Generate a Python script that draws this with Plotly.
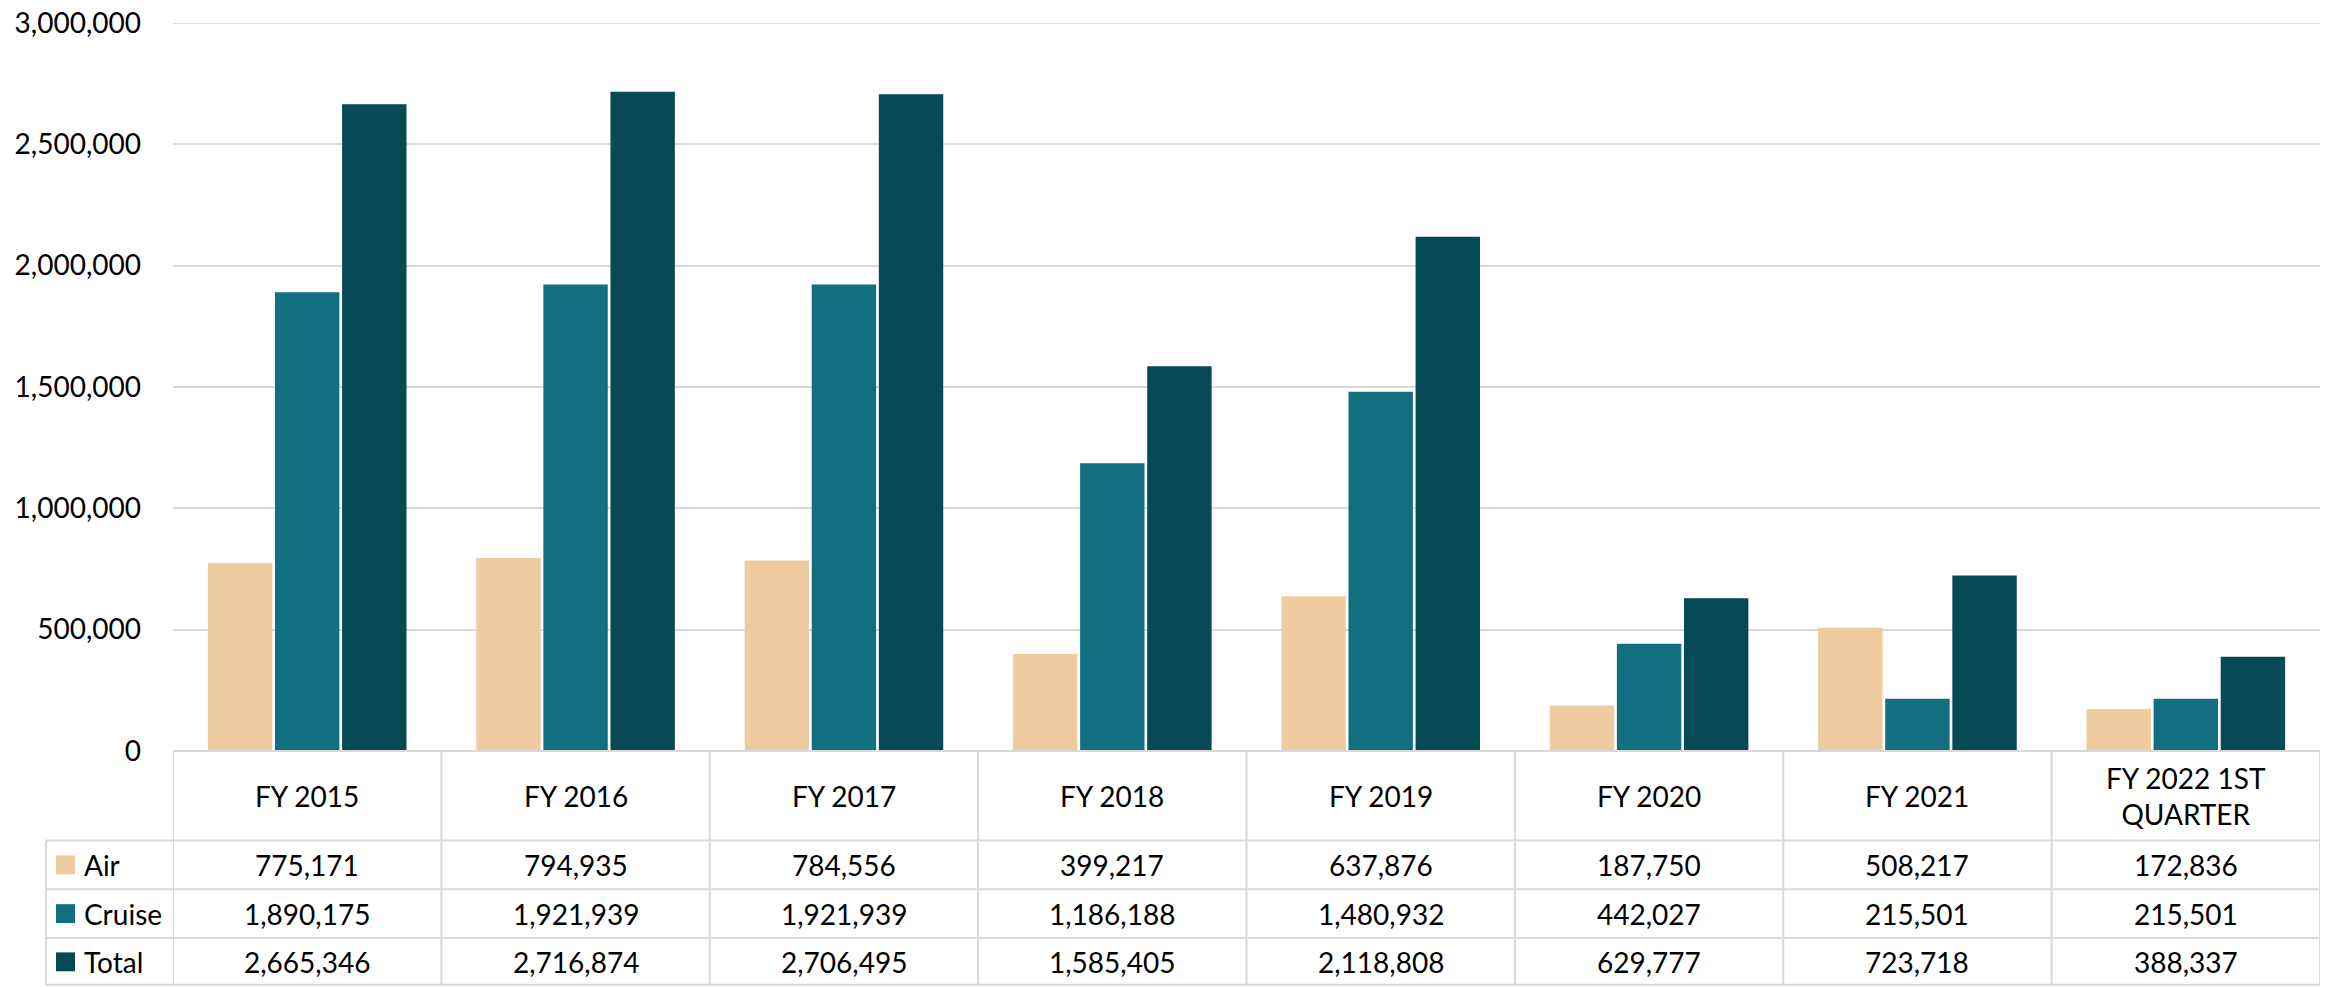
import plotly.graph_objects as go

categories = ["FY 2015", "FY 2016", "FY 2017", "FY 2018", "FY 2019", "FY 2020", "FY 2021", "FY 2022 1ST QUARTER"]
header_labels = ["FY 2015", "FY 2016", "FY 2017", "FY 2018", "FY 2019", "FY 2020", "FY 2021", "FY 2022 1ST<br>QUARTER"]
air = [775171, 794935, 784556, 399217, 637876, 187750, 508217, 172836]
cruise = [1890175, 1921939, 1921939, 1186188, 1480932, 442027, 215501, 215501]
total = [2665346, 2716874, 2706495, 1585405, 2118808, 629777, 723718, 388337]
series_names = ["Air", "Cruise", "Total"]
series_values = [air, cruise, total]
series_colors = ["#EFCC9F", "#126F80", "#074955"]
y_max = 3000000
y_step = 500000

W, H = 2325, 987
L, R, T, B = 173, 2320, 19, 751  # plot area in pixels
FONT = "Lato"
FS = 28
GRID = "#D9D9D9"


def px2x(px):
    return (px - L) / (R - L)


def px2y(py):
    return (B - py) / (B - T)


fig = go.Figure()
for name, vals, col in zip(series_names, series_values, series_colors):
    fig.add_trace(go.Bar(x=categories, y=vals, name=name, marker=dict(color=col, line=dict(width=0))))

shapes = []
annotations = []
header_top, header_bot = 751, 841
row_bounds = [(841, 890), (890, 939), (939, 987)]
table_left = 46
line = dict(color=GRID, width=2)

# top gridline at the axis maximum
shapes.append(dict(type="line", xref="paper", yref="y", x0=0, x1=1, y0=y_max, y1=y_max, line=line, layer="below"))

# horizontal table lines
shapes.append(dict(type="line", xref="paper", yref="paper", x0=0, x1=1, y0=px2y(header_top), y1=px2y(header_top), line=line))
for (t, b) in row_bounds:
    shapes.append(dict(type="line", xref="paper", yref="paper", x0=px2x(table_left), x1=1, y0=px2y(t), y1=px2y(t), line=line))
shapes.append(dict(type="line", xref="paper", yref="paper", x0=px2x(table_left), x1=1, y0=px2y(986), y1=px2y(986), line=line))
# vertical table lines
for i in range(len(categories) + 1):
    shapes.append(dict(type="line", xref="x", yref="paper", x0=i - 0.5, x1=i - 0.5, y0=px2y(header_top), y1=px2y(987), line=line))
shapes.append(dict(type="line", xref="paper", yref="paper", x0=px2x(table_left), x1=px2x(table_left), y0=px2y(841), y1=px2y(987), line=line))

# header
for cat, lab in zip(categories, header_labels):
    annotations.append(dict(xref="x", yref="paper", x=cat, y=px2y((header_top + header_bot) / 2), text=lab,
                            showarrow=False, xanchor="center", yanchor="middle", font=dict(family=FONT, size=FS, color="#000")))
# rows
for (t, b), name, vals, col in zip(row_bounds, series_names, series_values, series_colors):
    cy = (t + b) / 2
    shapes.append(dict(type="rect", xref="paper", yref="paper", x0=px2x(56), x1=px2x(75), y0=px2y(cy - 9.5), y1=px2y(cy + 9.5),
                       fillcolor=col, line=dict(width=0)))
    annotations.append(dict(xref="paper", yref="paper", x=px2x(82), y=px2y(cy), text=name, showarrow=False,
                            xanchor="left", yanchor="middle", font=dict(family=FONT, size=FS, color="#000")))
    for cat, v in zip(categories, vals):
        annotations.append(dict(xref="x", yref="paper", x=cat, y=px2y(cy), text=f"{v:,}", showarrow=False,
                                xanchor="center", yanchor="middle", font=dict(family=FONT, size=FS, color="#000")))

fig.update_layout(
    width=W, height=H, autosize=False,
    margin=dict(l=L, r=W - R, t=T, b=H - B, pad=0),
    paper_bgcolor="white", plot_bgcolor="white",
    barmode="group", bargap=0.25, bargroupgap=0.04,
    showlegend=False,
    shapes=shapes, annotations=annotations,
    font=dict(family=FONT, size=FS, color="#000"),
)
fig.update_xaxes(showticklabels=False, showgrid=False, zeroline=False, showline=False, ticks="", range=[-0.5, 7.5])
fig.update_yaxes(range=[0, y_max], dtick=y_step, tickformat=",", showgrid=True, gridcolor=GRID, gridwidth=2,
                 zeroline=False, showline=False, ticks="", ticklabelstandoff=31,
                 tickfont=dict(family=FONT, size=FS, color="#000"))

fig.write_html("out.html", config={"displayModeBar": False},
               post_script="document.body.style.margin='0';document.body.style.overflow='hidden';")
